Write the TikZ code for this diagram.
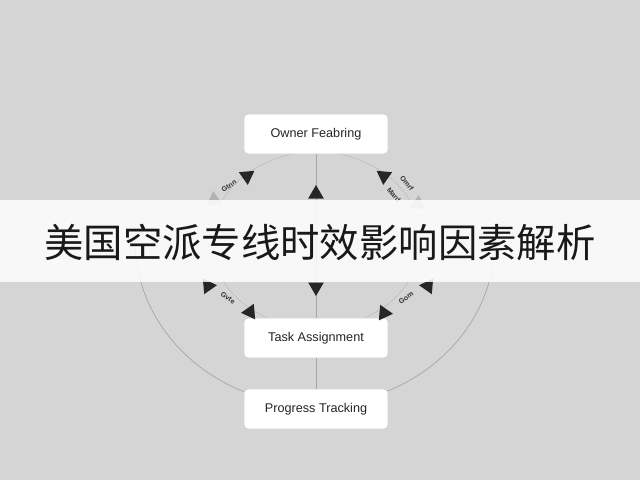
\documentclass[tikz,border=0pt]{standalone}
\usepackage{fontspec}
\setmainfont{Liberation Sans}
\newfontfamily\cjk{Noto Sans CJK SC}
\usetikzlibrary{shapes.geometric}
\begin{document}
\begin{tikzpicture}[x=0.025cm,y=-0.025cm,
 box/.style={draw=gray!40,fill=white,rounded corners=3pt,minimum width=3.6cm,minimum height=1cm,font=\fontsize{9}{10}\selectfont,text=black!85},
 tri/.style={regular polygon,regular polygon sides=3,fill=black!85,inner sep=0pt,minimum size=0.45cm},
 gtri/.style={tri,fill=gray!60},
 lab/.style={font=\fontsize{5}{8}\selectfont\bfseries,text=black!80,inner sep=0.5pt},
 ln/.style={draw=gray!70,line width=0.5pt}]
\fill[gray!33] (0,0) rectangle (640,480);
\useasboundingbox (0,0) rectangle (640,480);
\draw[ln] (135,240) arc[start angle=180, end angle=0, x radius=180, y radius=165];
\draw[ln,gray!50] (316,240) ellipse [x radius=105, y radius=88];
\node[box] (of) at (316,134) {Owner Feabring};
\node[box] (ta) at (316,338) {Task Assignment};
\node[box] (pt) at (316,409) {Progress Tracking};
\draw[ln] (of) -- (ta);
\draw[ln] (ta) -- (pt);
\node[tri] at (316,194) {};
\node[tri,rotate=180] at (316,287) {};
\node[tri,rotate=-55] at (247,176) {};
\node[gtri,rotate=125] at (214,200) {};
\node[lab,rotate=35] at (229,186) {Gtnn};
\node[tri,rotate=55] at (384,176) {};
\node[gtri,rotate=-125] at (418,204) {};
\node[lab,rotate=-50] at (407,183) {Omrf};
\node[lab,rotate=-50] at (394,195) {Mard};
\node[tri,rotate=35] at (208,286) {};
\node[tri,rotate=-145] at (250,312) {};
\node[lab,rotate=-35] at (228,298) {Gvte};
\node[tri,rotate=-35] at (428,286) {};
\node[tri,rotate=145] at (384,313) {};
\node[lab,rotate=35] at (406,298) {Gom};
\fill[white,opacity=0.85] (0,200) rectangle (640,282);
\node[font=\cjk\fontsize{28}{30}\selectfont,text=black!90] (t) at (320,243) {美国空派专线时效影响因素解析};
\end{tikzpicture}
\end{document}
